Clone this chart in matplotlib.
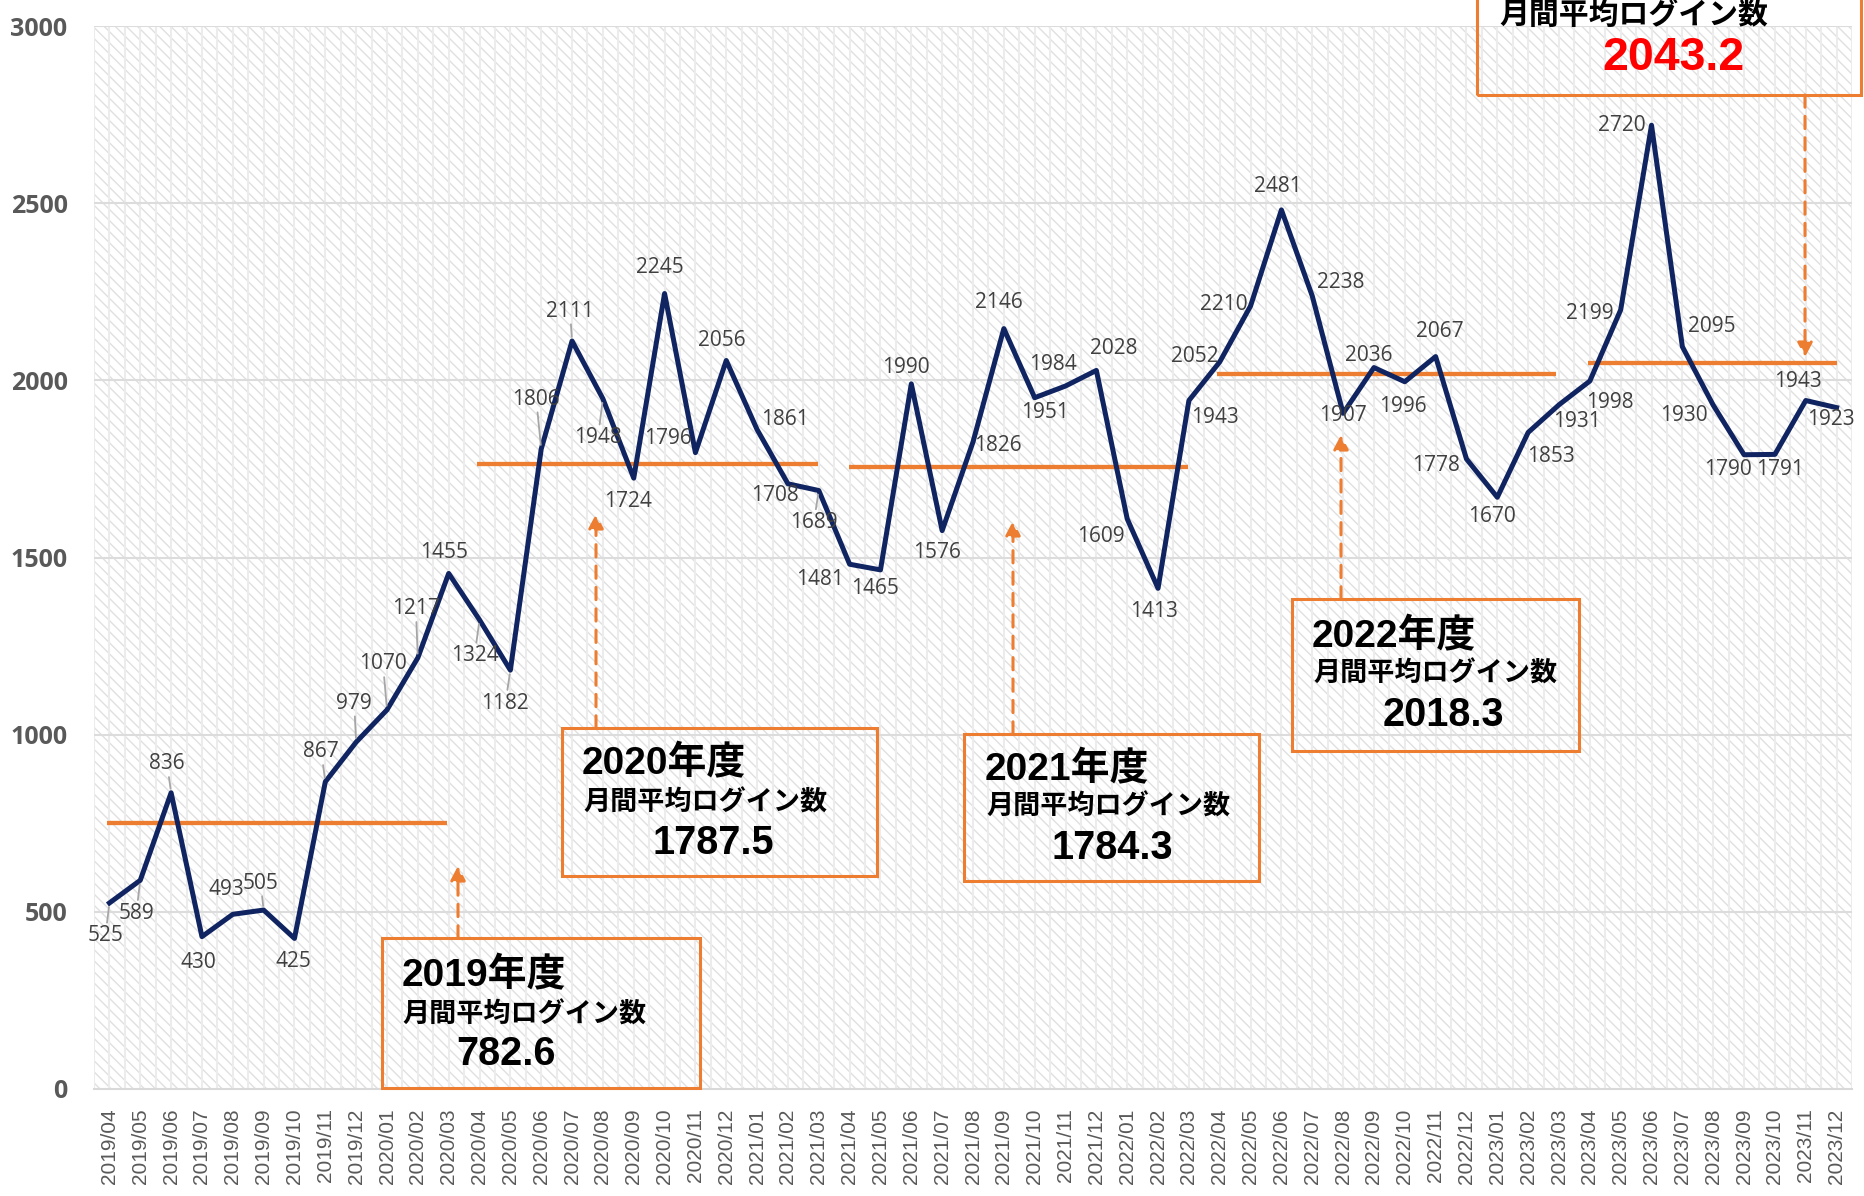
import matplotlib
matplotlib.use("Agg")
import numpy as np
import matplotlib.pyplot as plt
from matplotlib.patches import Rectangle

# month labels 2019/04 .. 2023/12
months = [f"{y}/{m:02d}" for y in range(2019, 2024) for m in range(1, 13)][3:]

# monthly logins
logins = [525, 589, 836, 430, 493, 505, 425, 867, 979, 1070, 1217, 1455,
          1324, 1182, 1806, 2111, 1948, 1724, 2245, 1796, 2056, 1861, 1708, 1689,
          1481, 1465, 1990, 1576, 1826, 2146, 1951, 1984, 2028, 1609, 1413, 1943,
          2052, 2210, 2481, 2238, 1907, 2036, 1996, 2067, 1778, 1670, 1853, 1931,
          1998, 2199, 2720, 2095, 1930, 1790, 1791, 1943, 1923]

fy_names = ["2019年度", "2020年度", "2021年度", "2022年度", "2023年度"]
fy_means = ["782.6", "1787.5", "1784.3", "2018.3", "2043.2"]
# level where the orange line was drawn in the chart
fy_levels = [751, 1764, 1756, 2018, 2049]
fy_spans = [(-0.08, 10.95), (11.92, 22.98), (23.98, 34.97), (35.9, 46.9), (47.95, 56.0)]

# label offsets in pixels (dx right, dy down)
lab_off = [(-4, 33), (-4, 33), (-4, -29), (-4, 26), (-6, -25), (-3, -27), (-1, 23),
           (-4, -30), (-2, -39), (-4, -46), (-2, -49), (-5, -21), (-5, 36), (-5, 33),
           (-5, -50), (-2, -30), (-5, 39), (-6, 23), (-5, -26), (-27, -14), (-4, -20),
           (28, -10), (-13, 12), (-5, 32), (-30, 15), (-5, 19), (-5, -16), (-5, 22),
           (25, 4), (-5, -26), (10, 15), (-13, -22), (17, -22), (-26, 18), (-4, 23),
           (26, 17), (-25, -5), (-27, -1), (-4, -23), (28, -14), (0, 2), (-5, -12),
           (-2, 25), (4, -25), (-30, 7), (-5, 19), (23, 24), (18, 17), (20, 21),
           (-31, 4), (-30, 0), (29, -20), (-29, 10), (-16, 15), (5, 15), (-8, -19),
           (-6, 12)]
leaders = {0, 1, 2, 5, 7, 8, 9, 10, 12, 13, 14, 15, 16, 23}

W, H = 1864, 1196
ORANGE = "#ED7D31"
NAVY = "#0f2461"
plt.rcParams["hatch.linewidth"] = 1.0

fig = plt.figure(figsize=(W / 100, H / 100), dpi=100)
ax = fig.add_axes([94 / W, 1 - 1089 / H, (1852 - 94) / W, (1089 - 26) / H])
ax.set_xlim(-0.5, len(months) - 0.5)
ax.set_ylim(0, 3000)

# hatched background + grid
ax.add_patch(Rectangle((0, 0), 1, 1, transform=ax.transAxes, facecolor="white",
                       edgecolor="#e0e0e0", hatch="\\\\\\", lw=0, zorder=0))
for k in np.arange(-0.5, len(months), 0.5):
    ax.axvline(k, color="#ececec", lw=1.5, zorder=0.5)
for v in range(500, 3001, 500):
    ax.axhline(v, color="#dcdcdc", lw=1.5, zorder=0.6)

for s in ["top", "right", "left"]:
    ax.spines[s].set_visible(False)
ax.spines["bottom"].set_color("#d9d9d9")
ax.spines["bottom"].set_linewidth(1.5)

x = np.arange(len(months))
ax.set_xticks(x)
ax.set_xticklabels(months, rotation=90, fontsize=15, color="#595959",
                   family="Liberation Sans")
ax.set_yticks(range(0, 3001, 500))
ax.set_yticklabels([str(v) for v in range(0, 3001, 500)], fontsize=18,
                   fontweight="bold", color="#595959", family="Open Sans")
ax.tick_params(axis="x", length=0, pad=14)
ax.tick_params(axis="y", length=0, pad=19)

# average lines
for lvl, (a, b) in zip(fy_levels, fy_spans):
    ax.plot([a, b], [lvl, lvl], color=ORANGE, lw=3.1, zorder=2, solid_capstyle="butt")

ax.plot(x, logins, color=NAVY, lw=3.6, zorder=3)

for i, v in enumerate(logins):
    dx, dy = lab_off[i]
    ap = None
    if i in leaders:
        ap = dict(arrowstyle="-", color="#a6a6a6", lw=1.3, shrinkA=0, shrinkB=3)
    ax.annotate(str(v), (i, v), xytext=(dx, -dy), textcoords="offset pixels",
                ha="center", va="center", fontsize=15, color="#404040",
                family="Open Sans", arrowprops=ap, zorder=4)


def fx(px):
    return px / W


def fy(py):
    return 1 - py / H


# annotation boxes (image pixels: left, top, right, bottom)
boxes = [(382, 938, 700, 1088), (562, 728, 877, 876), (964, 734, 1259, 881),
         (1292, 599, 1579, 751), (1477, -40, 1861, 95)]
title_pos = [(402, 976), (582, 764), (985, 770), (1312, 637), None]
sub_pos = [(402, 1016), (583, 804), (986, 808), (1313, 675), (1499, 16)]
val_pos = [(506, 1054), (713, 843), (1112, 848), (1443, 715), (1674, 58)]
arrows = [(458, 938, 866), (596, 728, 514), (1013, 734, 521), (1341, 599, 435),
          (1805, 95, 357)]

jp = ["Liberation Sans", "Noto Sans CJK JP"]
for k in range(5):
    l, t, r, b = boxes[k]
    fig.add_artist(Rectangle((fx(l), fy(b)), fx(r - l), (b - t) / H,
                             transform=fig.transFigure, facecolor="none",
                             edgecolor=ORANGE, lw=2.2, zorder=5))
    if title_pos[k] is not None:
        fig.text(fx(title_pos[k][0]), fy(title_pos[k][1]), fy_names[k], ha="left",
                 va="center", fontsize=28, fontweight="bold", family=jp, color="black")
    sub_size = 19.5 if k < 4 else 21.5
    fig.text(fx(sub_pos[k][0]), fy(sub_pos[k][1]), "月間平均ログイン数", ha="left",
             va="center", fontsize=sub_size, fontweight="bold", family=jp, color="black")
    fig.text(fx(val_pos[k][0]), fy(val_pos[k][1]), fy_means[k], ha="center",
             va="center", fontsize=28.5 if k < 4 else 33.5, fontweight="bold",
             family=jp, color="black" if k < 4 else "#FF0000")
    ax_x, y0, y1 = arrows[k]
    ax.annotate("", xy=(fx(ax_x), fy(y1)), xytext=(fx(ax_x), fy(y0)),
                xycoords="figure fraction", textcoords="figure fraction",
                arrowprops=dict(arrowstyle="-|>,head_length=0.85,head_width=0.45",
                                color=ORANGE, lw=2.2, linestyle=(0, (4, 3)),
                                shrinkA=0, shrinkB=0), zorder=5)

fig.savefig("out.png", dpi=100)
